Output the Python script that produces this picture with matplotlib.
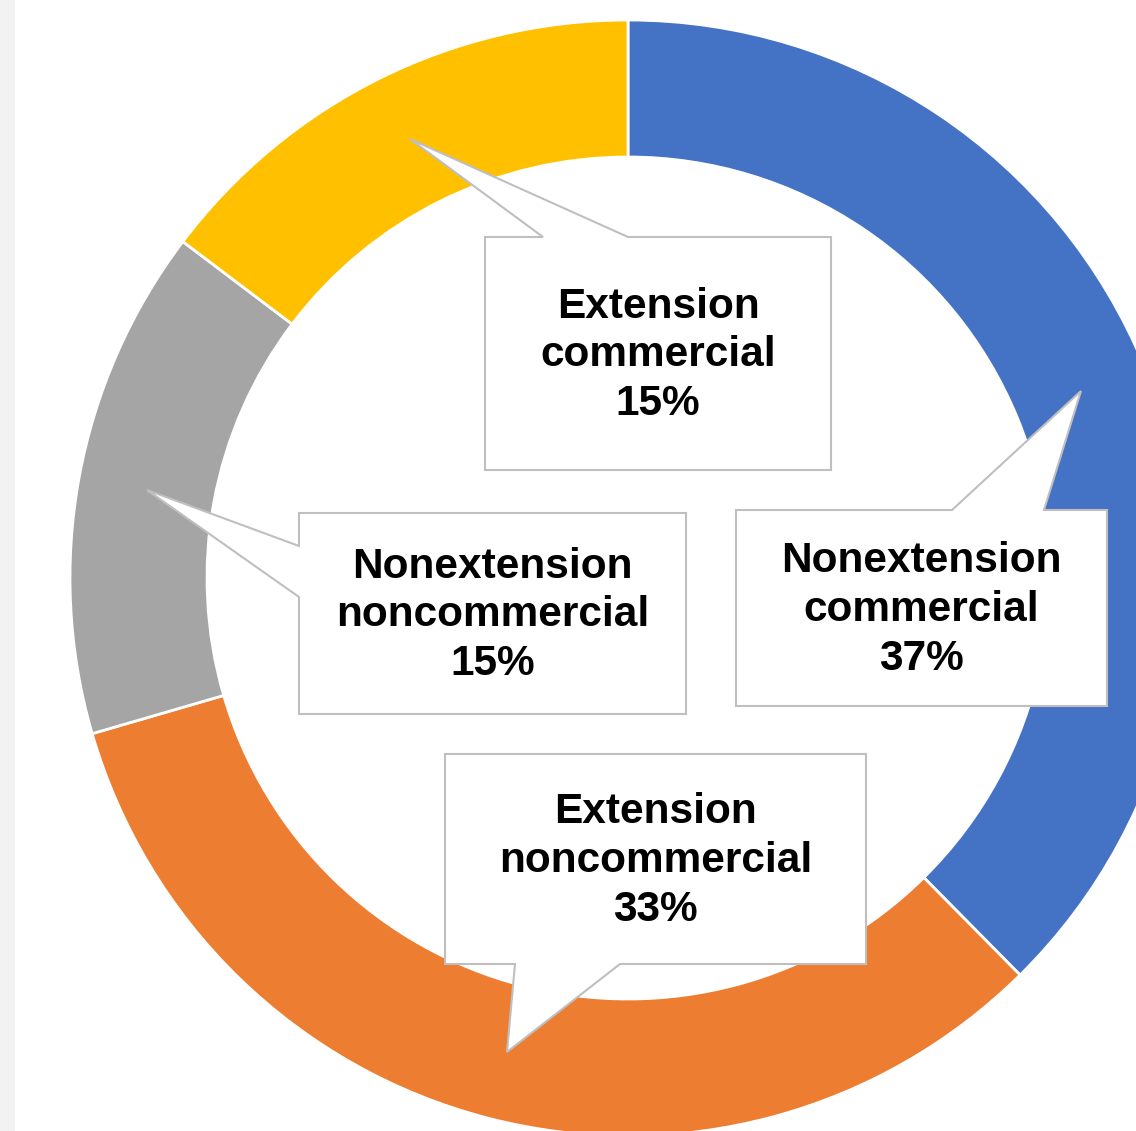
import matplotlib
matplotlib.use("Agg")
import matplotlib.pyplot as plt
from matplotlib.patches import Polygon, Rectangle

# data
labels = ["Nonextension\ncommercial", "Extension\nnoncommercial",
          "Nonextension\nnoncommercial", "Extension\ncommercial"]
shares = [37.6, 32.9, 14.8, 14.7]          # wedge sizes as drawn
pct_labels = ["37%", "33%", "15%", "15%"]  # label text as printed
colors = ["#4472C4", "#ED7D31", "#A5A5A5", "#FFC000"]

W, H = 1136, 1131

# callout layout (pixel coords, y down): box + pointer outline
callouts = {
    "Nonextension\ncommercial": [(736, 510), (952, 510), (1081, 391), (1044, 510),
                                 (1107, 510), (1107, 706), (736, 706)],
    "Extension\nnoncommercial": [(445, 754), (866, 754), (866, 964), (620, 964),
                                 (507, 1052), (515, 964), (445, 964)],
    "Nonextension\nnoncommercial": [(299, 513), (686, 513), (686, 714), (299, 714),
                                    (299, 597), (147, 490), (299, 546)],
    "Extension\ncommercial": [(485, 237), (543, 237), (410, 139), (628, 237),
                              (831, 237), (831, 470), (485, 470)],
}
boxes = {
    "Nonextension\ncommercial": (736, 1107, 510, 706),
    "Extension\nnoncommercial": (445, 866, 754, 964),
    "Nonextension\nnoncommercial": (299, 686, 513, 714),
    "Extension\ncommercial": (485, 831, 237, 470),
}

fig = plt.figure(figsize=(W / 100, H / 100), dpi=100)
ax = fig.add_axes([0, 0, 1, 1])

# 饼图 (donut) - y axis is flipped below, so angles run the other way
ax.pie(shares, colors=colors, startangle=-90, counterclock=True,
       center=(628, 578), radius=558,
       wedgeprops=dict(width=137, edgecolor="white", linewidth=2))

ax.set_xlim(0, W)
ax.set_ylim(H, 0)
ax.set_aspect("auto")
ax.axis("off")

# light strip on the left edge
ax.add_patch(Rectangle((0, 0), 15, H, facecolor="#f2f2f2", edgecolor="none", zorder=0))

for lab, pct in zip(labels, pct_labels):
    ax.add_patch(Polygon(callouts[lab], closed=True, facecolor="white",
                         edgecolor="#bfbfbf", linewidth=1.5, zorder=5))
    x0, x1, y0, y1 = boxes[lab]
    ax.text((x0 + x1) / 2, (y0 + y1) / 2 + 2, f"{lab}\n{pct}", ha="center", va="center",
            multialignment="center", fontsize=30.5, fontweight="bold",
            family="Liberation Sans", linespacing=1.28, zorder=6)

fig.savefig("out.png", dpi=100)
